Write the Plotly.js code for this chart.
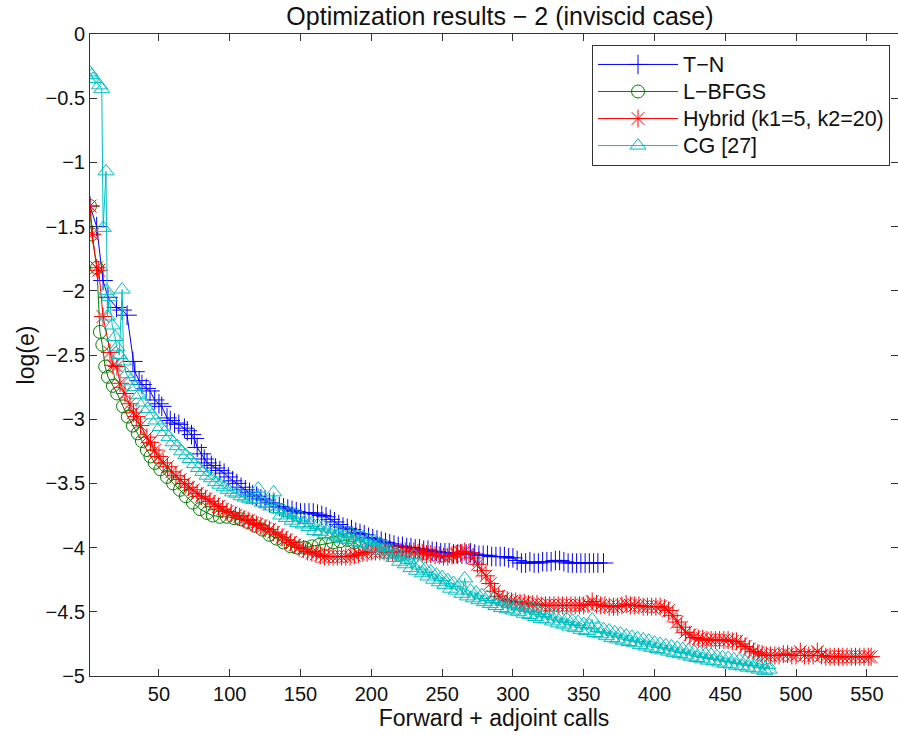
<!DOCTYPE html>
<html>
<head>
<meta charset="utf-8">
<script src="https://cdn.plot.ly/plotly-3.0.1.min.js"></script>
<style>html,body{margin:0;padding:0;background:#fff}#chart{width:898px;height:735px}</style>
</head>
<body>
<div id="chart"></div>
<script>
const seriesNames = ["T\u2212N", "L\u2212BFGS", "Hybrid (k1=5, k2=20)", "CG [27]"];
const xTickValues = [50,100,150,200,250,300,350,400,450,500,550];
const yTickValues = [0,-0.5,-1,-1.5,-2,-2.5,-3,-3.5,-4,-4.5,-5];

const tnData = [[1.3,-1.34],[6,-1.5],[10.5,-1.92],[14,-2.05],[20,-2.13],[24,-2.15],[27.5,-2.19],[31.6,-2.55],[33,-2.63],[36,-2.7],
[38,-2.73],[41,-2.76],[43.7,-2.78],[47,-2.85],[50,-2.88],[52,-2.9],[55.7,-2.99],[58,-3.01],[61,-3.03],[64,-3.04],
[68,-3.07],[70,-3.09],[73,-3.12],[75,-3.15],[77,-3.22],[80,-3.27],[82,-3.31],[84,-3.34],[87,-3.36],[90,-3.38],
[93,-3.4],[96,-3.42],[99,-3.45],[102,-3.48],[105,-3.5],[108,-3.53],[111,-3.55],[114,-3.57],[116,-3.59],[119,-3.6],
[122,-3.62],[125,-3.63],[128,-3.65],[131,-3.66],[135,-3.68],[138,-3.69],[141,-3.7],[144,-3.71],[147,-3.72],[150,-3.73],
[153,-3.73],[156,-3.73],[159,-3.73],[162,-3.74],[165,-3.75],[168,-3.76],[171,-3.78],[174,-3.8],[177,-3.82],[180,-3.84],
[183,-3.85],[186,-3.86],[189,-3.88],[192,-3.89],[195,-3.9],[198,-3.92],[201,-3.93],[204,-3.94],[207,-3.95],[210,-3.96],
[213,-3.97],[216,-3.98],[219,-3.99],[222,-3.99],[225,-4.0],[228,-4.0],[231,-4.01],[234,-4.01],[237,-4.02],[240,-4.02],
[243,-4.03],[246,-4.03],[249,-4.04],[252,-4.04],[255,-4.04],[258,-4.05],[261,-4.05],[264,-4.05],[267,-4.05],[270,-4.04],
[273,-4.05],[276,-4.06],[279,-4.06],[282,-4.06],[285,-4.07],[288,-4.07],[291,-4.07],[294,-4.07],[297,-4.08],[300,-4.08],
[303,-4.1],[306,-4.12],[309,-4.12],[312,-4.11],[315,-4.12],[318,-4.12],[321,-4.11],[324,-4.11],[327,-4.11],[330,-4.1],
[333,-4.1],[336,-4.11],[339,-4.12],[342,-4.12],[345,-4.12],[348,-4.12],[351,-4.12],[354,-4.12],[357,-4.12],[360,-4.12],[364,-4.12]];

const lbfgsData = [[1.3,-1.34],[2.5,-1.56],[6.2,-1.82],[8.3,-2.32],[10,-2.42],[12,-2.59],[14,-2.67],[17.5,-2.74],[20.5,-2.8],[24.6,-2.9],
[28,-2.98],[31.6,-3.05],[35,-3.11],[38,-3.17],[41.5,-3.24],[44,-3.29],[47,-3.34],[51,-3.39],[55.7,-3.45],[60,-3.5],
[64.8,-3.55],[69,-3.6],[74,-3.65],[79,-3.7],[84,-3.73],[88,-3.75],[93,-3.76],[98,-3.76],[103,-3.77],[108,-3.78],
[113,-3.8],[118,-3.83],[123,-3.86],[128,-3.9],[133,-3.93],[138,-3.96],[143,-3.99],[148,-4.0],[153,-4.0],[158,-3.99],
[163,-3.98],[168,-3.97],[173,-3.96],[178,-3.95],[183,-3.94],[188,-3.96],[192,-3.99]];

const hybridData = [[1.3,-1.34],[3,-1.56],[6,-1.82],[7.5,-1.84],[10.5,-2.2],[15.4,-2.48],[17.5,-2.58],[20.3,-2.59],[22.5,-2.72],[26,-2.8],
[29.5,-2.88],[32,-2.95],[34,-2.98],[37,-3.05],[41.5,-3.14],[44,-3.18],[47,-3.24],[50,-3.29],[53,-3.34],[56,-3.37],
[59,-3.41],[62,-3.44],[65,-3.47],[68,-3.5],[71,-3.53],[74,-3.55],[77,-3.58],[80,-3.6],[83,-3.62],[86,-3.64],
[89,-3.66],[92,-3.68],[95,-3.7],[98,-3.72],[101,-3.73],[104,-3.75],[107,-3.76],[110,-3.78],[113,-3.79],[116,-3.81],
[119,-3.82],[122,-3.83],[125,-3.85],[128,-3.86],[131,-3.88],[134,-3.9],[137,-3.92],[140,-3.94],[143,-3.96],[146,-3.98],
[149,-4.0],[152,-4.01],[155,-4.03],[158,-4.04],[161,-4.05],[164,-4.06],[167,-4.07],[170,-4.07],[173,-4.07],[176,-4.07],
[179,-4.07],[182,-4.07],[185,-4.07],[188,-4.06],[191,-4.05],[194,-4.04],[197,-4.04],[200,-4.03],[203,-4.03],[206,-4.03],
[209,-4.03],[212,-4.04],[215,-4.04],[218,-4.04],[221,-4.03],[224,-4.03],[227,-4.03],[230,-4.03],[233,-4.04],[236,-4.04],
[239,-4.05],[242,-4.05],[245,-4.06],[248,-4.06],[251,-4.07],[254,-4.07],[257,-4.06],[260,-4.05],[263,-4.04],[266,-4.03],
[269,-4.04],[272,-4.08],[275,-4.13],[278,-4.18],[281,-4.22],[284,-4.28],[287,-4.34],[290,-4.38],[293,-4.4],[296,-4.41],
[299,-4.42],[302,-4.42],[305,-4.43],[308,-4.43],[311,-4.44],[314,-4.44],[317,-4.44],[320,-4.45],[323,-4.45],[326,-4.45],
[329,-4.45],[332,-4.45],[335,-4.45],[338,-4.45],[341,-4.45],[344,-4.45],[347,-4.45],[350,-4.45],[353,-4.44],[356,-4.42],
[359,-4.44],[362,-4.45],[365,-4.45],[368,-4.46],[371,-4.46],[374,-4.46],[377,-4.45],[380,-4.44],[383,-4.45],[386,-4.45],
[389,-4.45],[392,-4.46],[395,-4.46],[398,-4.46],[401,-4.46],[404,-4.46],[407,-4.47],[410,-4.49],[413,-4.53],[416,-4.58],
[419,-4.62],[422,-4.66],[425,-4.68],[428,-4.7],[431,-4.71],[434,-4.71],[437,-4.72],[440,-4.72],[443,-4.72],[446,-4.72],
[449,-4.72],[452,-4.72],[455,-4.73],[458,-4.73],[461,-4.75],[464,-4.77],[467,-4.79],[470,-4.81],[473,-4.82],[476,-4.83],
[479,-4.84],[482,-4.84],[485,-4.84],[488,-4.84],[491,-4.83],[494,-4.83],[497,-4.84],[500,-4.84],[503,-4.81],[506,-4.84],
[509,-4.84],[512,-4.84],[515,-4.81],[518,-4.84],[521,-4.85],[524,-4.85],[527,-4.85],[530,-4.85],[533,-4.85],[536,-4.85],
[539,-4.85],[542,-4.85],[545,-4.85],[548,-4.85],[551,-4.85],[553,-4.85]];

const cgData = [[1.3,-0.3],[2.5,-0.32],[3.5,-0.35],[8,-0.4],[9.6,-0.43],[10.6,-1.51],[12.6,-1.07],[13,-2.0],[13.6,-2.2],[15,-2.05],
[17,-2.27],[19,-2.36],[20.3,-2.44],[22,-2.5],[24,-1.99],[25,-2.55],[27,-2.65],[30,-2.7],[33,-2.75],[36,-2.81],
[39,-2.87],[42,-2.92],[45,-2.97],[48,-3.01],[51,-3.06],[54,-3.1],[57,-3.14],[60,-3.18],[63,-3.21],[66,-3.25],
[69,-3.28],[72,-3.31],[75,-3.35],[78,-3.38],[81,-3.41],[84,-3.44],[87,-3.46],[90,-3.49],[93,-3.51],[96,-3.53],
[99,-3.55],[102,-3.57],[105,-3.58],[108,-3.6],[111,-3.61],[114,-3.62],[117,-3.63],[120,-3.54],[123,-3.65],[126,-3.66],
[129,-3.68],[131,-3.57],
[134,-3.7],[136,-3.75],[138,-3.71],[140,-3.77],[142,-3.73],[144,-3.79],[146,-3.745],[148,-3.81],[150,-3.765],[152,-3.82],
[154,-3.785],[156,-3.84],[158,-3.81],[160,-3.87],[162,-3.825],[164,-3.88],[166,-3.835],[168,-3.895],[170,-3.85],[172,-3.905],
[174,-3.86],[176,-3.915],[178,-3.875],[180,-3.93],[182,-3.885],[184,-3.94],[186,-3.895],[188,-3.955],[190,-3.91],[192,-3.965],
[194,-3.92],[196,-3.975],[198,-3.935],[200,-3.99],[202,-3.95],[204,-4.005],[206,-3.97],[208,-4.03],[210,-3.995],[212,-4.055],
[214,-4.02],[216,-4.08],[218,-4.045],[220,-4.11],[222,-4.07],[224,-4.13],[226,-4.095],[228,-4.16],[230,-4.06],[232,-4.18],
[234,-4.14],[236,-4.2],[238,-4.165],[240,-4.225],[242,-4.185],[244,-4.25],[246,-4.21],[248,-4.27],[250,-4.23],[252,-4.29],
[254,-4.255],[256,-4.32],[258,-4.275],[260,-4.335],[262,-4.295],[264,-4.36],[266,-4.24],[268,-4.38],[270,-4.335],[272,-4.395],
[274,-4.35],[276,-4.41],[278,-4.37],[280,-4.425],[282,-4.385],[284,-4.44],[286,-4.4],[288,-4.455],[290,-4.41],[292,-4.47],
[294,-4.425],[296,-4.48],[298,-4.44],[300,-4.49],[302,-4.45],[304,-4.5],[306,-4.46],[308,-4.515],[310,-4.47],[312,-4.525],
[314,-4.48],[316,-4.54],[318,-4.495],[320,-4.555],[322,-4.51],[324,-4.56],[326,-4.52],[328,-4.575],[330,-4.535],[332,-4.59],
[334,-4.545],[336,-4.6],[338,-4.555],[340,-4.615],[342,-4.57],[344,-4.625],[346,-4.58],[348,-4.64],[350,-4.595],[352,-4.65],
[354,-4.605],[356,-4.56],[358,-4.665],[360,-4.625],[362,-4.675],[364,-4.635],[366,-4.69],[368,-4.645],[370,-4.705],[372,-4.66],
[374,-4.715],[376,-4.67],[378,-4.725],[380,-4.685],[382,-4.735],[384,-4.695],[386,-4.745],[388,-4.705],[390,-4.76],[392,-4.715],
[394,-4.77],[396,-4.725],[398,-4.78],[400,-4.74],[402,-4.79],[404,-4.75],[406,-4.8],[408,-4.76],[410,-4.81],[412,-4.77],
[414,-4.82],[416,-4.78],[418,-4.83],[420,-4.79],[422,-4.84],[424,-4.8],[426,-4.85],[428,-4.81],[430,-4.86],[432,-4.82],
[434,-4.87],[436,-4.83],[438,-4.88],[440,-4.835],[442,-4.885],[444,-4.845],[446,-4.895],[448,-4.855],[450,-4.905],[452,-4.86],
[454,-4.91],[456,-4.87],[458,-4.92],[460,-4.875],[462,-4.925],[464,-4.885],[466,-4.935],[468,-4.89],[470,-4.94],[472,-4.895],
[474,-4.95],[476,-4.905],[478,-4.96],[480,-4.915],[481,-4.95]];

const FONT = "Liberation Sans, Arial, Helvetica, sans-serif";
function mk(data, name, color, symbol, size) {
  return {
    x: data.map(p => p[0]), y: data.map(p => p[1]),
    name: '<span style="font-size:21.5px">' + name + '</span>', type: 'scatter', mode: 'lines+markers',
    line: {color: color, width: 1},
    marker: {symbol: symbol, size: size, color: color, line: {color: color, width: 1}}
  };
}
const traces = [
  mk(tnData, seriesNames[0], '#0000ff', 'cross-thin-open', 14),
  mk(lbfgsData, seriesNames[1], '#008000', 'circle-open', 13),
  mk(hybridData, seriesNames[2], '#ff0000', 'asterisk-open', 15),
  mk(cgData, seriesNames[3], '#00bfbf', 'triangle-up-open', 14)
];
const axisCommon = {
  showline: true, linecolor: '#333', linewidth: 1, mirror: 'ticks',
  ticks: 'inside', ticklen: 7, tickcolor: '#333', tickwidth: 1,
  showgrid: false, zeroline: false,
  tickfont: {family: FONT, size: 20, color: '#111'}
};
const layout = {
  width: 898, height: 735,
  margin: {l: 90, r: 0, t: 34, b: 59, pad: 0},
  paper_bgcolor: '#ffffff', plot_bgcolor: '#ffffff',
  font: {family: FONT, color: '#111'},
  title: {text: 'Optimization results \u2212 2 (inviscid case)', font: {family: FONT, size: 25, color: '#111'},
          x: 0.5074, xref: 'paper', xanchor: 'center', y: 1 - 16/735, yref: 'container', yanchor: 'middle'},
  xaxis: Object.assign({}, axisCommon, {
    range: [1.3, 572], tickmode: 'array', tickvals: xTickValues, ticktext: xTickValues.map(String),
    title: {text: 'Forward + adjoint calls', font: {family: FONT, size: 23, color: '#111'}, standoff: 2}
  }),
  yaxis: Object.assign({}, axisCommon, {
    range: [-5, 0], tickmode: 'array', tickvals: yTickValues,
    ticktext: yTickValues.map(v => v === 0 ? '0' : '\u2212' + String(Math.abs(v))),
    title: {text: 'log(e)', font: {family: FONT, size: 23, color: '#111'}, standoff: 4}
  }),
  legend: {x: 0.6213, y: 0.983, xanchor: 'left', yanchor: 'top', bgcolor: '#ffffff',
           bordercolor: '#333', borderwidth: 1, font: {family: FONT, size: 18.5, color: '#111'},
           itemwidth: 80, tracegroupgap: 0},
  showlegend: true
};
Plotly.newPlot('chart', traces, layout, {displayModeBar: false, staticPlot: true});
</script>
</body>
</html>
